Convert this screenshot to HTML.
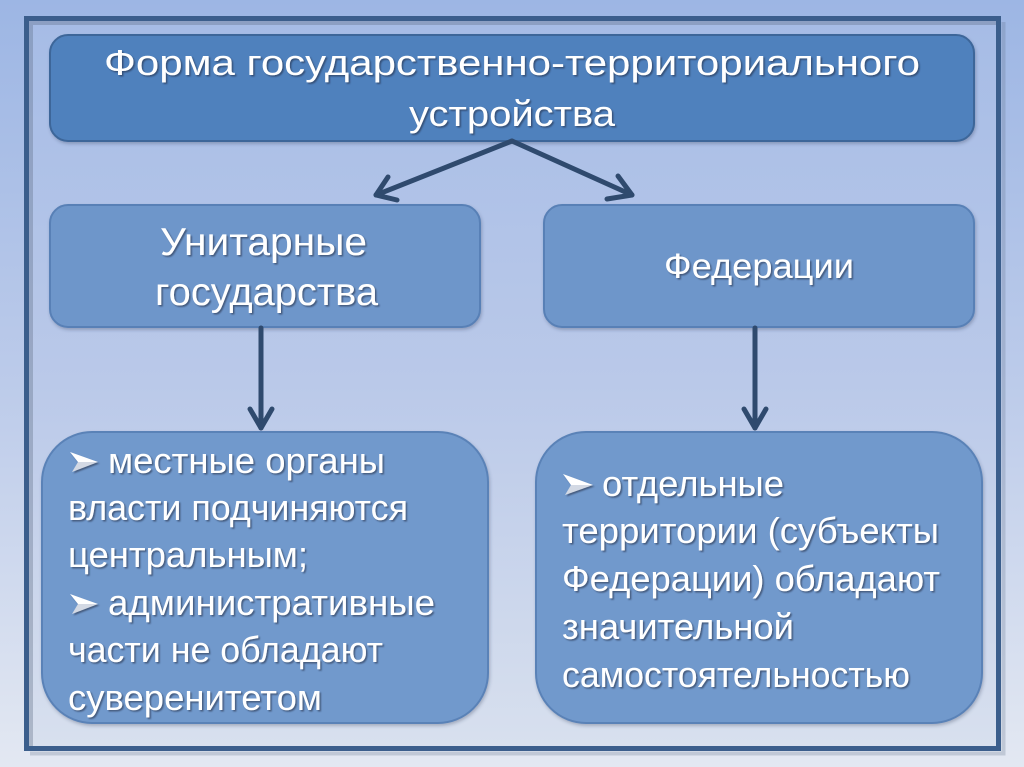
<!DOCTYPE html>
<html><head><meta charset="utf-8">
<style>
html,body{margin:0;padding:0;background:#c4d2ec;}
svg{display:block;}
text{font-family:"Liberation Sans","DejaVu Sans",sans-serif;fill:#ffffff;}
</style></head>
<body>
<svg width="1024" height="767" viewBox="0 0 1024 767" xmlns="http://www.w3.org/2000/svg">
<defs>
  <linearGradient id="bg" x1="0" y1="0" x2="0" y2="1">
    <stop offset="0" stop-color="#9db6e4"/>
    <stop offset="0.5" stop-color="#bccbea"/>
    <stop offset="1" stop-color="#e3e8f2"/>
  </linearGradient>
  <linearGradient id="inner" x1="0" y1="0" x2="0" y2="1">
    <stop offset="0" stop-color="#a6bce6"/>
    <stop offset="0.5" stop-color="#bac9e9"/>
    <stop offset="1" stop-color="#d8e0ee"/>
  </linearGradient>
  <filter id="ts" x="-5%" y="-20%" width="110%" height="140%">
    <feDropShadow dx="1.5" dy="1.5" stdDeviation="0.8" flood-color="#1a2a40" flood-opacity="0.55"/>
  </filter>
  <filter id="bs" x="-5%" y="-5%" width="110%" height="115%">
    <feDropShadow dx="1" dy="2" stdDeviation="1.5" flood-color="#2a3a55" flood-opacity="0.3"/>
  </filter>
</defs>

<rect x="0" y="0" width="1024" height="767" fill="url(#bg)"/>

<!-- frame shadow -->
<path d="M1003.5 22 L1003.5 753.5 L30 753.5" fill="none" stroke="#5a6a85" stroke-opacity="0.25" stroke-width="4"/>
<!-- frame -->
<rect x="26.5" y="18.5" width="972" height="730" fill="url(#inner)" stroke="#3b5e8c" stroke-width="5"/>
<!-- inner shadow -->
<path d="M31 746 L31 23 L996 23" fill="none" stroke="#5d6a80" stroke-opacity="0.35" stroke-width="4"/>

<!-- boxes -->
<rect x="50" y="35" width="924" height="106" rx="18" ry="18" fill="#4f81bd" stroke="#3c6699" stroke-width="2" filter="url(#bs)"/>
<rect x="50" y="205" width="430" height="122" rx="18" ry="18" fill="#6e96ca" stroke="#5880b6" stroke-width="2" filter="url(#bs)"/>
<rect x="544" y="205" width="430" height="122" rx="18" ry="18" fill="#6e96ca" stroke="#5880b6" stroke-width="2" filter="url(#bs)"/>
<rect x="42" y="432" width="446" height="291" rx="50" ry="50" fill="#7199cc" stroke="#5a82b7" stroke-width="2" filter="url(#bs)"/>
<rect x="536" y="432" width="446" height="291" rx="50" ry="50" fill="#7199cc" stroke="#5a82b7" stroke-width="2" filter="url(#bs)"/>

<!-- arrows -->
<g fill="none" stroke="#2f4a6e" stroke-width="5" stroke-linecap="round" stroke-linejoin="round">
  <path d="M512 141 L376 195"/>
  <path d="M388 177 L376 195 L397 200"/>
  <path d="M512 141 L632 195"/>
  <path d="M618 176 L632 195 L607 199"/>
  <path d="M261 328 L261 428"/>
  <path d="M250 409 L261 428 L272 409"/>
  <path d="M755 328 L755 428"/>
  <path d="M744 409 L755 428 L766 409"/>
</g>

<!-- texts -->
<g filter="url(#ts)">
  <text x="104" y="75" font-size="36" textLength="816" lengthAdjust="spacingAndGlyphs">Форма государственно-территориального</text>
  <text x="409" y="126" font-size="36" textLength="206" lengthAdjust="spacingAndGlyphs">устройства</text>

  <text x="160" y="255" font-size="39" textLength="207" lengthAdjust="spacingAndGlyphs">Унитарные</text>
  <text x="155" y="305" font-size="39" textLength="223" lengthAdjust="spacingAndGlyphs">государства</text>

  <text x="664" y="278" font-size="35" textLength="190" lengthAdjust="spacingAndGlyphs">Федерации</text>

  <text x="108" y="473" font-size="36" textLength="277" lengthAdjust="spacingAndGlyphs">местные органы</text>
  <text x="68" y="520" font-size="36" textLength="340" lengthAdjust="spacingAndGlyphs">власти подчиняются</text>
  <text x="68" y="567" font-size="36" textLength="240" lengthAdjust="spacingAndGlyphs">центральным;</text>
  <text x="108" y="615" font-size="36" textLength="327" lengthAdjust="spacingAndGlyphs">административные</text>
  <text x="68" y="662" font-size="36" textLength="315" lengthAdjust="spacingAndGlyphs">части не обладают</text>
  <text x="68" y="710" font-size="36" textLength="254" lengthAdjust="spacingAndGlyphs">суверенитетом</text>

  <text x="602" y="496" font-size="36" textLength="182" lengthAdjust="spacingAndGlyphs">отдельные</text>
  <text x="562" y="543" font-size="36" textLength="377" lengthAdjust="spacingAndGlyphs">территории (субъекты</text>
  <text x="562" y="591" font-size="36" textLength="378" lengthAdjust="spacingAndGlyphs">Федерации) обладают</text>
  <text x="562" y="639" font-size="36" textLength="232" lengthAdjust="spacingAndGlyphs">значительной</text>
  <text x="562" y="687" font-size="36" textLength="348" lengthAdjust="spacingAndGlyphs">самостоятельностью</text>

  <!-- bullets -->
  <g transform="translate(70,473)">
    <polygon points="0,-21 28,-11 8,-11" fill="#ffffff"/>
    <polygon points="8,-11 28,-11 2,-1" fill="#d3d9e4"/>
  </g>
  <g transform="translate(70,615)">
    <polygon points="0,-21 28,-11 8,-11" fill="#ffffff"/>
    <polygon points="8,-11 28,-11 2,-1" fill="#d3d9e4"/>
  </g>
  <g transform="translate(563,496)">
    <polygon points="0,-22 30,-11 8,-11" fill="#ffffff"/>
    <polygon points="8,-11 30,-11 2,-1" fill="#d3d9e4"/>
  </g>
</g>
</svg>
</body></html>
